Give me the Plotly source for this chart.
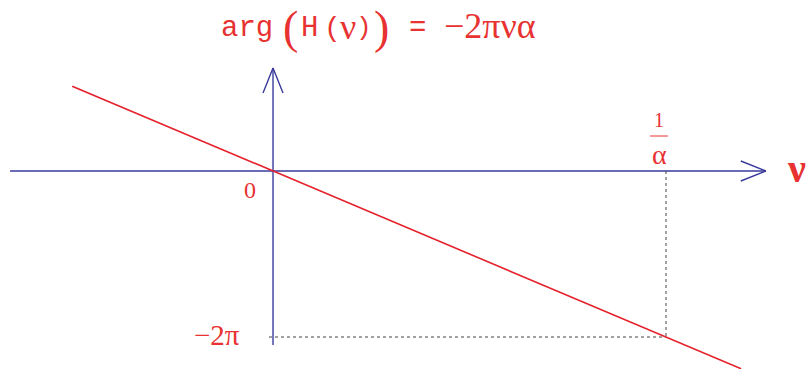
import numpy as np
import plotly.graph_objects as go

# Frequency in units of 1/alpha, phase in radians
nu_line = [-0.511, 1.191]
phase_line = [-2 * np.pi * v for v in nu_line]

nu_mark = 1.0                 # nu = 1/alpha
phase_mark = -2 * np.pi       # arg(H) at nu = 1/alpha

x_axis_span = [-0.669, 1.254]
y_axis_span = [-6.59, 3.90]

W, H = 809, 369
x_range = [-0.6947, 1.3639]
y_range = [-7.494, 6.472]
px_x = W / (x_range[1] - x_range[0])
px_y = H / (y_range[1] - y_range[0])

BLUE = "#3a3a9c"
RED = "#e5202a"
TXT = "#e83232"

fig = go.Figure()

# axes
fig.add_trace(go.Scatter(x=x_axis_span, y=[0, 0], mode="lines",
                         line=dict(color=BLUE, width=1.4), hoverinfo="skip"))
fig.add_trace(go.Scatter(x=[0, 0], y=y_axis_span, mode="lines",
                         line=dict(color=BLUE, width=1.4), hoverinfo="skip"))

# open arrow heads
hl, hw = 25, 10
xe = x_axis_span[1]
fig.add_trace(go.Scatter(x=[xe - hl / px_x, xe, xe - hl / px_x],
                         y=[hw / px_y, 0, -hw / px_y], mode="lines",
                         line=dict(color=BLUE, width=1.4), hoverinfo="skip"))
ye = y_axis_span[1]
fig.add_trace(go.Scatter(x=[-hw / px_x, 0, hw / px_x],
                         y=[ye - hl / px_y, ye, ye - hl / px_y], mode="lines",
                         line=dict(color=BLUE, width=1.4), hoverinfo="skip"))

# dotted guides
fig.add_trace(go.Scatter(x=[nu_mark, nu_mark], y=[0, phase_mark], mode="lines",
                         line=dict(color="#444444", width=1, dash="dot"), hoverinfo="skip"))
fig.add_trace(go.Scatter(x=[-4 / px_x, nu_mark], y=[phase_mark, phase_mark], mode="lines",
                         line=dict(color="#444444", width=1, dash="dot"), hoverinfo="skip"))

# phase line
fig.add_trace(go.Scatter(x=nu_line, y=phase_line, mode="lines",
                         line=dict(color=RED, width=1.6), hoverinfo="skip"))

def px2x(p):
    return x_range[0] + p / px_x

def py2y(p):
    return y_range[1] - p / px_y

def label(text, px, py, size, family, anchor="center"):
    fig.add_annotation(x=px2x(px), y=py2y(py), text=text, showarrow=False,
                       xanchor=anchor, yanchor="middle",
                       font=dict(size=size, family=family, color=TXT))

MONO = "Liberation Mono"
SERIF = "Liberation Serif"

# title pieces
label("arg", 219, 28, 29, MONO, "left")
label("(", 290, 27, 46, SERIF)
label("H", 309, 28, 29, MONO)
label("(", 332, 28, 28, MONO)
label("ν", 348, 27, 36, SERIF)
label(")", 364, 28, 26, MONO)
label(")", 381, 27, 46, SERIF)
label("=", 417, 28, 29, MONO)
label("−2πνα", 538, 26, 36, SERIF, "right")

# axis labels
label("0", 250, 190, 24, SERIF)
label("−2π", 217, 335, 29, SERIF)
label("1", 659, 120, 20, SERIF)
label("α", 659, 154, 28, SERIF)
fig.add_shape(type="line", x0=px2x(650), x1=px2x(668), y0=py2y(136), y1=py2y(136),
              line=dict(color=TXT, width=1))
label("<b>ν</b>", 796, 168, 40, SERIF)

fig.update_layout(
    width=W, height=H, margin=dict(l=0, r=0, t=0, b=0),
    paper_bgcolor="white", plot_bgcolor="white", showlegend=False,
    xaxis=dict(range=x_range, visible=False, fixedrange=True),
    yaxis=dict(range=y_range, visible=False, fixedrange=True),
)

fig.write_html("out.html")
